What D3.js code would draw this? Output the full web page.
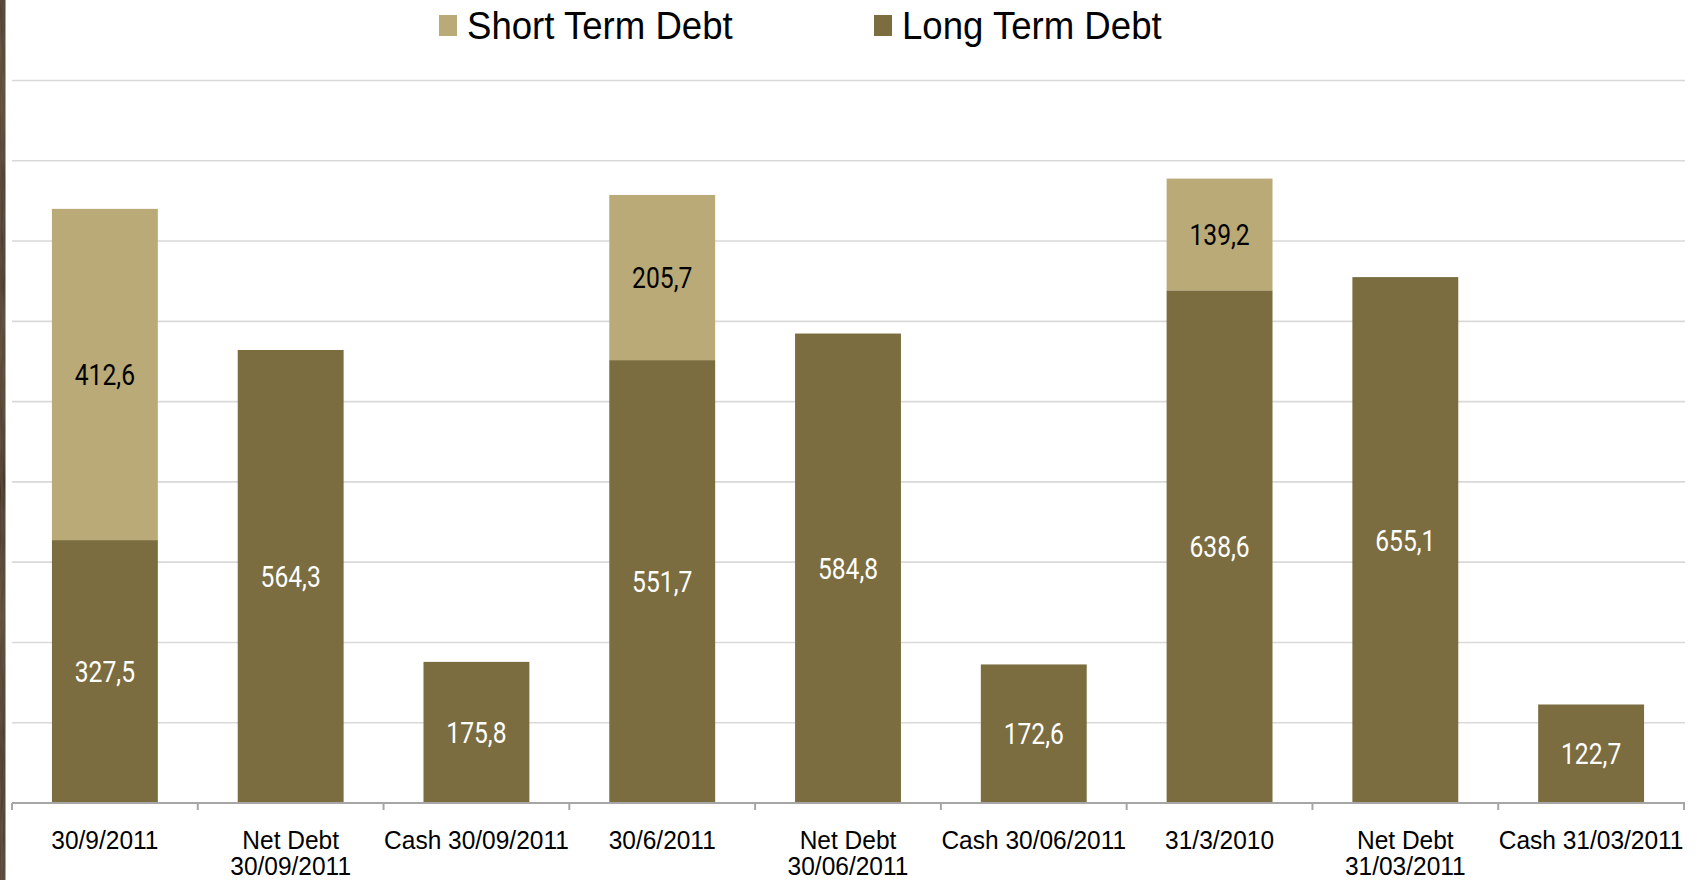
<!DOCTYPE html>
<html>
<head>
<meta charset="utf-8">
<script src="https://cdn.jsdelivr.net/npm/d3@7"></script>
<style>
  html, body { margin: 0; padding: 0; background: #ffffff; }
  svg { display: block; }
</style>
</head>
<body>
<svg id="chart" width="1706" height="880"></svg>
<script>
// Debt composition per reporting date (EUR m)
const categories = [
  ["30/9/2011"],
  ["Net Debt", "30/09/2011"],
  ["Cash 30/09/2011"],
  ["30/6/2011"],
  ["Net Debt", "30/06/2011"],
  ["Cash 30/06/2011"],
  ["31/3/2010"],
  ["Net Debt", "31/03/2011"],
  ["Cash 31/03/2011"]
];
const longTermDebt  = [327.5, 564.3, 175.8, 551.7, 584.8, 172.6, 638.6, 655.1, 122.7];
const shortTermDebt = [412.6, 0, 0, 205.7, 0, 0, 139.2, 0, 0];
const seriesNames = ["Short Term Debt", "Long Term Debt"];
const yTicks = [0, 100, 200, 300, 400, 500, 600, 700, 800, 900];

const colors = { long: "#7b6d3f", short: "#b9aa77" };

const W = 1706, H = 880;
const plot = { left: 12, right: 1684, top: 80.5, bottom: 803 };

const svg = d3.select("#chart");

// dark wooden strip on the left edge
const defs = svg.append("defs");
const grad = defs.append("linearGradient").attr("id", "woodGrad")
  .attr("x1", 0).attr("y1", 0).attr("x2", 0).attr("y2", 1);
[["0", "#4a3a2a"], ["0.12", "#5a4936"], ["0.25", "#45352a"], ["0.4", "#574634"],
 ["0.55", "#423225"], ["0.7", "#5b4a37"], ["0.85", "#473729"], ["1", "#534231"]]
  .forEach(([o, c]) => grad.append("stop").attr("offset", o).attr("stop-color", c));
const wood = defs.append("filter").attr("id", "wood")
  .attr("x", 0).attr("y", 0).attr("width", 1).attr("height", 1);
wood.append("feTurbulence").attr("type", "fractalNoise")
  .attr("baseFrequency", "0.6 0.03").attr("numOctaves", 2).attr("seed", 3).attr("result", "n");
wood.append("feColorMatrix").attr("in", "n").attr("type", "matrix")
  .attr("values", "0 0 0 0 0.2  0 0 0 0 0.15  0 0 0 0 0.1  0.6 0 0 0 -0.1").attr("result", "c");
wood.append("feComposite").attr("in", "c").attr("in2", "SourceGraphic").attr("operator", "atop");
svg.append("rect").attr("x", 0).attr("y", 0).attr("width", 5.5).attr("height", H)
  .attr("fill", "url(#woodGrad)").attr("filter", "url(#wood)");

const keys = categories.map(c => c.join(" "));
const x = d3.scaleBand().domain(keys)
  .range([plot.left, plot.right])
  .paddingInner(0.43).paddingOuter(0.215);
const y = d3.scaleLinear().domain([0, 900]).range([plot.bottom, plot.top]);

// horizontal gridlines
svg.append("g").selectAll("line").data(yTicks.filter(t => t > 0)).join("line")
  .attr("x1", plot.left).attr("x2", plot.right + 1)
  .attr("y1", d => y(d)).attr("y2", d => y(d))
  .attr("stroke", "#d9d9d9").attr("stroke-width", 1.6);

// stacked bars
const rows = keys.map((k, i) => ({ key: k, long: longTermDebt[i], short: shortTermDebt[i] }));
const stack = d3.stack().keys(["long", "short"])(rows);
const fmt = d3.formatLocale({ decimal: ",", thousands: ".", grouping: [3], currency: ["", ""] }).format(".1f");

const layers = svg.append("g").selectAll("g").data(stack).join("g")
  .attr("fill", d => colors[d.key]);
layers.selectAll("rect").data(d => d.filter(s => s[1] - s[0] > 0)).join("rect")
  .attr("x", d => x(d.data.key))
  .attr("width", x.bandwidth())
  .attr("y", d => y(d[1]))
  .attr("height", d => y(d[0]) - y(d[1]));

// value labels centred in each segment
const labelGroups = svg.append("g").selectAll("g").data(stack).join("g");
labelGroups.each(function (layer) {
  const isLong = layer.key === "long";
  d3.select(this).selectAll("g").data(layer.filter(s => s[1] - s[0] > 0)).join("g")
    .attr("transform", d => `translate(${x(d.data.key) + x.bandwidth() / 2},${(y(d[0]) + y(d[1])) / 2 + 10.5}) scale(0.85,1)`)
    .append("text")
    .attr("text-anchor", "middle")
    .attr("font-family", "Roboto, 'Liberation Sans Narrow', sans-serif")
    .attr("font-size", 29)
    .attr("fill", isLong ? "#ffffff" : "#000000")
    .text(d => fmt(d[1] - d[0]));
});

// category axis: baseline, boundary ticks and labels
const axis = svg.append("g");
axis.append("line")
  .attr("x1", plot.left).attr("x2", plot.right + 1)
  .attr("y1", y(0)).attr("y2", y(0))
  .attr("stroke", "#a6a6a6").attr("stroke-width", 2);
axis.selectAll("line.tick").data(d3.range(keys.length + 1)).join("line")
  .attr("class", "tick")
  .attr("x1", i => x.range()[0] + i * x.step()).attr("x2", i => x.range()[0] + i * x.step())
  .attr("y1", y(0)).attr("y2", y(0) + 7)
  .attr("stroke", "#a6a6a6").attr("stroke-width", 2);

const catLabels = axis.selectAll("g.cat").data(categories).join("g")
  .attr("class", "cat")
  .attr("transform", (d, i) => `translate(${x(keys[i]) + x.bandwidth() / 2},849) scale(1,1.06)`);
catLabels.each(function (lines) {
  d3.select(this).selectAll("text").data(lines).join("text")
    .attr("text-anchor", "middle")
    .attr("y", (d, j) => j * 24.8)
    .attr("font-family", "'Liberation Sans', Arial, sans-serif")
    .attr("font-size", 24.5)
    .attr("fill", "#000000")
    .text(d => d);
});

// legend
const legendItems = [
  { name: seriesNames[0], color: colors.short, x: 439 },
  { name: seriesNames[1], color: colors.long, x: 874 }
];
const legend = svg.append("g").selectAll("g").data(legendItems).join("g")
  .attr("transform", d => `translate(${d.x},0)`);
legend.append("rect").attr("x", 0).attr("y", 15).attr("width", 18).attr("height", 21)
  .attr("fill", d => d.color);
legend.append("g").attr("transform", "translate(28,39) scale(1,1.07)")
  .append("text")
  .attr("font-family", "'Liberation Sans', Arial, sans-serif")
  .attr("font-size", 36.6)
  .attr("fill", "#000000")
  .text(d => d.name);
</script>
</body>
</html>
